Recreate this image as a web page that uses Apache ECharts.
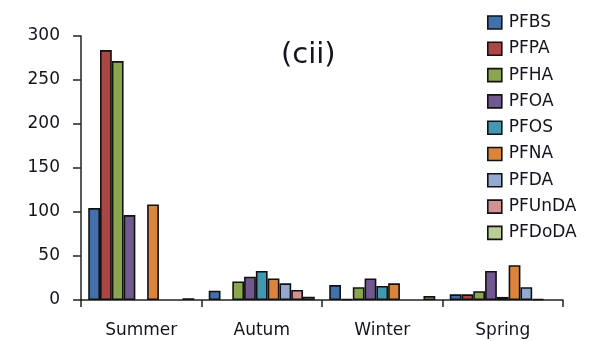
<!DOCTYPE html>
<html>
<head>
<meta charset="utf-8">
<script src="https://cdn.jsdelivr.net/npm/echarts@6/dist/echarts.min.js"></script>
<style>
  html, body { margin: 0; padding: 0; background: #fff; }
  #chart { width: 598px; height: 341px; }
</style>
</head>
<body>
<div id="chart"></div>
<script>
// Seasons on the category axis
var seasons = ['Summer', 'Autum', 'Winter', 'Spring'];

// Compound names (legend order)
var compounds = ['PFBS', 'PFPA', 'PFHA', 'PFOA', 'PFOS', 'PFNA', 'PFDA', 'PFUnDA', 'PFDoDA'];

// Concentrations per compound, one value per season (null = not detected)
var PFBS   = [104.5, 10.5, 17,   6.5];
var PFPA   = [284,   null, 1,    6.5];
var PFHA   = [271.5, 21,   14.5, 10];
var PFOA   = [96.5,  26.5, 24.5, 33];
var PFOS   = [null,  33,   16,   3.5];
var PFNA   = [108.5, 24.5, 19,   39.5];
var PFDA   = [null,  19,   null, 14.5];
var PFUnDA = [null,  11.5, null, 1];
var PFDoDA = [2,     3.8,  4.5,  null];

// Y axis ticks
var yTicks = [0, 50, 100, 150, 200, 250, 300];

var seriesValues = [PFBS, PFPA, PFHA, PFOA, PFOS, PFNA, PFDA, PFUnDA, PFDoDA];
var palette = ['#4170aa', '#aa4644', '#8aa64e', '#71588f', '#4198af',
               '#db843d', '#93a9cf', '#d19392', '#b9cd96'];

var textColor = '#14141f';
var fontFam = 'DejaVu Sans';

var chart = echarts.init(document.getElementById('chart'), null, { renderer: 'canvas' });

var series = compounds.map(function (name, i) {
  return {
    name: name,
    type: 'bar',
    data: seriesValues[i],
    barGap: '0%',
    barCategoryGap: '12%',
    itemStyle: { color: palette[i], borderColor: '#111', borderWidth: 1.6 }
  };
});

chart.setOption({
  animation: false,
  backgroundColor: '#fff',
  color: palette,
  grid: { left: 81, right: 35, top: 36, bottom: 41 },
  graphic: [{
    type: 'text',
    left: 281,
    top: 41,
    style: { text: '(cii)', font: '29px "DejaVu Sans"', fill: textColor }
  }],
  legend: {
    orient: 'vertical',
    left: 487,
    top: 14,
    padding: 0,
    itemWidth: 14,
    itemHeight: 13,
    itemGap: 9.3,
    icon: 'rect',
    data: compounds,
    textStyle: { fontFamily: fontFam, fontSize: 17, color: textColor, lineHeight: 17, padding: [0, 0, 0, 2] },
    itemStyle: { borderColor: '#111', borderWidth: 1.6 }
  },
  xAxis: {
    type: 'category',
    data: seasons,
    boundaryGap: true,
    axisLine: { lineStyle: { color: '#222', width: 1.5 } },
    axisTick: { show: true, length: 7, alignWithLabel: false, lineStyle: { color: '#222', width: 1.5 } },
    axisLabel: { fontFamily: fontFam, fontSize: 17, color: textColor, margin: 22 }
  },
  yAxis: {
    type: 'value',
    min: yTicks[0],
    max: yTicks[yTicks.length - 1],
    interval: yTicks[1] - yTicks[0],
    splitLine: { show: false },
    axisLine: { show: true, lineStyle: { color: '#222', width: 1.5 } },
    axisTick: { show: true, length: 8, lineStyle: { color: '#222', width: 1.5 } },
    axisLabel: { fontFamily: fontFam, fontSize: 17, color: textColor, margin: 21 }
  },
  series: series
});
</script>
</body>
</html>
